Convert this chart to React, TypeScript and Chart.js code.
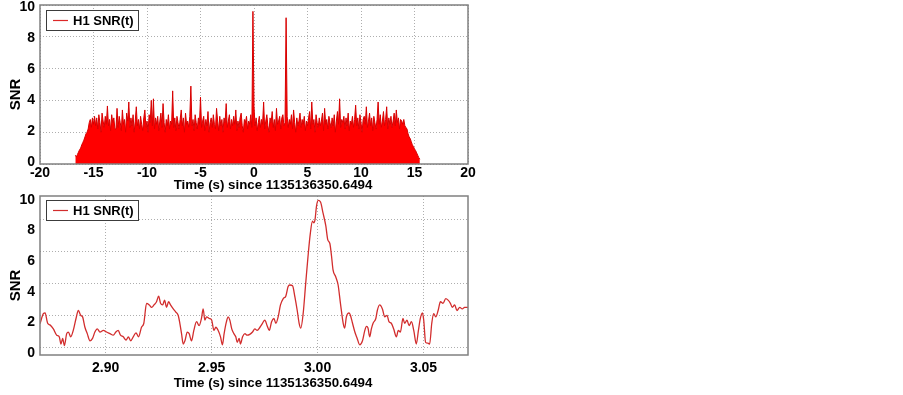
import React, { useEffect, useRef } from "react";
import { Chart, registerables } from "chart.js";

Chart.register(...registerables);

const FONT = "'Liberation Sans', Arial, Helvetica, sans-serif";

// ---------- data: full time series (top panel) ----------
const topStartTime = -16.7;
const topSampleStep = 0.1;
const topSNR = [
  0.55, 0.45, 0.6, 0.75, 0.9, 1.0, 1.2, 1.35, 1.5, 1.7,
  1.9, 2.0, 2.2, 2.6, 2.8, 2.3, 2.9, 2.5, 3.0, 2.4,
  2.9, 2.2, 3.1, 2.6, 2.0, 3.2, 2.7, 2.3, 3.0, 2.5,
  3.65, 2.4, 2.8, 2.1, 3.1, 2.6, 2.9, 2.2, 2.2, 3.5,
  2.3, 3.0, 2.6, 2.1, 3.4, 2.5, 2.8, 2.0, 3.2, 2.7,
  3.9, 2.3, 2.9, 2.4, 3.1, 2.0, 2.7, 3.6, 2.4, 2.8,
  2.2, 3.0, 2.5, 2.1, 2.9, 3.4, 2.3, 2.7, 2.0, 3.1,
  2.6, 4.0, 2.4, 4.1, 2.2, 2.9, 2.5, 3.0, 2.1, 2.7,
  3.2, 2.3, 3.8, 2.6, 2.0, 2.8, 2.4, 3.1, 2.2, 2.7,
  2.5, 4.6, 2.3, 2.9, 2.1, 3.0, 2.6, 2.2, 2.8, 3.4,
  2.4, 2.9, 2.0, 3.2, 2.5, 2.7, 2.3, 3.0, 4.9, 2.4,
  2.8, 2.1, 3.1, 2.6, 2.2, 2.9, 2.5, 4.2, 2.3, 2.7,
  3.0, 2.1, 2.8, 2.4, 3.3, 2.0, 2.6, 2.9, 2.3, 3.1,
  2.5, 2.2, 3.5, 2.7, 2.1, 3.0, 2.4, 2.8, 2.0, 2.9,
  2.6, 3.8, 2.3, 2.7, 3.1, 2.2, 2.8, 2.4, 3.0, 2.5,
  3.4, 2.1, 2.7, 2.3, 2.9, 3.2, 2.4, 2.0, 2.8, 2.6,
  3.0, 2.2, 2.7, 2.5, 3.1, 2.3, 9.6, 3.6, 2.4, 2.9,
  2.1, 2.6, 3.0, 2.3, 2.8, 2.5, 3.9, 2.2, 2.7, 3.1,
  2.4, 2.0, 2.9, 2.6, 3.3, 2.3, 2.8, 2.1, 3.5, 2.5,
  2.7, 3.0, 2.2, 2.9, 3.1, 2.4, 2.6, 9.2, 3.0, 2.3,
  2.8, 2.5, 3.1, 2.2, 3.4, 2.6, 2.0, 2.9, 2.4, 2.7,
  3.2, 2.3, 2.8, 2.5, 3.0, 2.1, 2.7, 2.4, 2.9, 3.3,
  2.2, 3.9, 2.5, 2.8, 2.0, 3.1, 2.6, 2.3, 2.9, 2.4,
  2.7, 3.2, 2.1, 3.5, 2.5, 2.8, 2.2, 3.0, 2.6, 2.3,
  2.9, 2.4, 3.1, 2.0, 2.7, 3.3, 2.5, 4.1, 2.3, 2.8,
  2.6, 3.0, 2.2, 2.9, 2.4, 3.2, 2.1, 2.7, 2.5, 3.0,
  2.3, 2.8, 3.7, 2.4, 2.9, 2.2, 3.1, 2.6, 2.0, 2.8,
  3.0, 2.5, 3.6, 2.3, 2.7, 3.2, 2.4, 2.9, 2.1, 3.0,
  2.6, 2.2, 2.8, 3.9, 2.5, 3.1, 2.3, 2.7, 3.3, 2.4,
  2.8, 3.6, 2.2, 2.9, 2.5, 3.0, 2.3, 2.7, 3.2, 2.4,
  3.4, 2.6, 2.9, 2.2, 2.8, 2.7, 2.5, 2.8, 2.4, 2.3,
  2.2, 1.9, 1.7, 1.6, 1.4, 1.2, 1.1, 0.95, 0.85, 0.7,
  0.55, 0.4, 0.3,
];
const topXTicks = [-20, -15, -10, -5, 0, 5, 10, 15, 20];
const topGridTicks = [0, 2, 4, 6, 8, 10];
const yTickValues = [0, 2, 4, 6, 8, 10];

// ---------- data: zoom around the peak (bottom panel) ----------
const zoomTimes = [
  2.8690, 2.8706, 2.8714, 2.8726, 2.8737, 2.8753, 2.8769, 2.8781, 2.8789, 2.8797,
  2.8805, 2.8816, 2.8824, 2.8835, 2.8847, 2.8860, 2.8871, 2.8882, 2.8891, 2.8902,
  2.8913, 2.8926, 2.8938, 2.8949, 2.8960, 2.8973, 2.8989, 2.9004, 2.9020, 2.9036,
  2.9048, 2.9059, 2.9070, 2.9083, 2.9096, 2.9107, 2.9118, 2.9130, 2.9143, 2.9155,
  2.9169, 2.9180, 2.9193, 2.9206, 2.9217, 2.9228, 2.9240, 2.9250, 2.9259, 2.9269,
  2.9278, 2.9287, 2.9297, 2.9306, 2.9319, 2.9331, 2.9342, 2.9350, 2.9358, 2.9366,
  2.9374, 2.9385, 2.9394, 2.9405, 2.9416, 2.9429, 2.9441, 2.9452, 2.9460, 2.9468,
  2.9476, 2.9489, 2.9500, 2.9511, 2.9520, 2.9531, 2.9542, 2.9551, 2.9559, 2.9570,
  2.9578, 2.9586, 2.9595, 2.9605, 2.9614, 2.9621, 2.9630, 2.9636, 2.9646, 2.9657,
  2.9668, 2.9680, 2.9693, 2.9704, 2.9715, 2.9728, 2.9740, 2.9751, 2.9762, 2.9772,
  2.9783, 2.9794, 2.9803, 2.9814, 2.9825, 2.9838, 2.9850, 2.9861, 2.9869, 2.9882,
  2.9893, 2.9904, 2.9913, 2.9921, 2.9932, 2.9944, 2.9955, 2.9966, 2.9976, 2.9982,
  2.9988, 2.9995, 3.0003, 3.0014, 3.0026, 3.0039, 3.0048, 3.0058, 3.0066, 3.0073,
  3.0086, 3.0097, 3.0108, 3.0121, 3.0128, 3.0136, 3.0149, 3.0155, 3.0165, 3.0176,
  3.0187, 3.0199, 3.0212, 3.0223, 3.0231, 3.0238, 3.0246, 3.0254, 3.0262, 3.0275,
  3.0282, 3.0293, 3.0306, 3.0317, 3.0328, 3.0337, 3.0348, 3.0359, 3.0372, 3.0381,
  3.0391, 3.0403, 3.0411, 3.0422, 3.0432, 3.0443, 3.0454, 3.0466, 3.0476, 3.0485,
  3.0495, 3.0501, 3.0510, 3.0521, 3.0529, 3.0539, 3.0548, 3.0558, 3.0569, 3.0580,
  3.0592, 3.0605, 3.0616, 3.0627, 3.0636, 3.0647, 3.0658, 3.0671, 3.0683, 3.0694,
  3.0710,
];
const zoomSNR = [
  1.47, 2.1, 2.15, 1.5, 1.4, 1.15, 0.75, 0.65, 0.2, 0.55,
  0.1, 0.85, 0.95, 0.65, 1.05, 1.8, 2.3, 2.0, 1.9, 1.25,
  0.85, 0.4, 0.55, 0.95, 1.15, 0.95, 1.05, 0.95, 0.85, 0.75,
  0.95, 1.05, 0.75, 0.65, 0.45, 0.65, 0.4, 0.65, 0.9, 0.65,
  1.25, 1.5, 2.75, 2.65, 2.5, 2.65, 2.85, 3.2, 2.75, 2.65,
  2.95, 2.5, 2.85, 2.65, 2.4, 2.2, 2.0, 1.5, 0.85, 0.2,
  0.4, 0.95, 0.85, 0.4, 1.05, 1.6, 1.35, 1.8, 2.4, 1.7,
  1.9, 1.8, 1.7, 1.05, 1.25, 1.05, 0.65, 0.15, 0.85, 1.6,
  1.9, 1.7, 1.15, 0.85, 0.65, 0.3, 0.55, 0.2, 0.65, 0.85,
  0.75, 0.8, 0.95, 1.15, 1.05, 1.25, 1.5, 1.7, 1.35, 1.05,
  1.6, 1.8, 1.5, 1.9, 2.65, 3.05, 3.2, 3.8, 3.9, 3.85,
  3.15, 2.3, 1.5, 1.2, 2.1, 4.0, 5.7, 7.15, 7.9, 7.8,
  8.0, 8.85, 9.2, 9.1, 8.4, 7.6, 6.75, 6.5, 5.7, 4.85,
  4.4, 3.9, 2.75, 1.5, 1.2, 1.9, 2.15, 2.0, 1.5, 0.95,
  0.55, 0.15, 0.4, 1.05, 1.3, 1.2, 0.65, 1.15, 1.5, 1.8,
  2.3, 2.65, 2.4, 1.9, 2.0, 1.6, 1.5, 1.15, 0.65, 1.05,
  0.95, 1.8, 1.5, 1.7, 1.35, 1.6, 1.05, 0.2, 1.05, 1.8,
  2.15, 1.7, 0.3, 0.25, 0.2, 1.5, 2.1, 1.9, 2.3, 2.85,
  2.75, 3.05, 2.95, 2.75, 2.5, 2.65, 2.3, 2.5, 2.4, 2.5,
  2.5,
];
const zoomXTicks = [2.9, 2.95, 3.0, 3.05];
const zoomXTickLabels = ["2.90", "2.95", "3.00", "3.05"];
const zoomGridTicks = [0, 2, 4, 6, 8];

const legendLabel = "H1 SNR(t)";
const xTitle = "Time (s) since 1135136350.6494";
const yTitle = "SNR";

const GRID_COLOR = "#aeaeae";
const TICK_FONT = { family: FONT, size: 14, weight: "bold" as const };

const decorPlugin = {
  id: "decor",
  afterDraw(chart: any, _args: any, opts: any) {
    const { ctx, chartArea: a } = chart;
    ctx.save();
    // frame
    ctx.strokeStyle = "#808080";
    ctx.lineWidth = 1.5;
    ctx.strokeRect(a.left, a.top, a.right - a.left, a.bottom - a.top);
    // legend box
    const lx = Math.round(a.left + 6);
    const ly = Math.round(a.top + opts.legendDy);
    const lw = 92;
    const lh = 20;
    ctx.fillStyle = "#ffffff";
    ctx.fillRect(lx, ly, lw, lh);
    ctx.strokeStyle = "#3c3c3c";
    ctx.lineWidth = 1;
    ctx.strokeRect(lx + 0.5, ly + 0.5, lw, lh);
    ctx.strokeStyle = opts.legendColor;
    ctx.lineWidth = 1.2;
    ctx.beginPath();
    ctx.moveTo(lx + 7, ly + lh / 2 + 0.5);
    ctx.lineTo(lx + 22, ly + lh / 2 + 0.5);
    ctx.stroke();
    ctx.fillStyle = "#000000";
    ctx.font = `bold 13px ${FONT}`;
    ctx.textAlign = "left";
    ctx.textBaseline = "middle";
    ctx.fillText(legendLabel, lx + 27, ly + lh / 2 + 1);
    // x axis title
    ctx.font = `bold 13.3px ${FONT}`;
    ctx.textAlign = "center";
    ctx.fillText(xTitle, (a.left + a.right) / 2 + 19, a.bottom + opts.xTitleDy);
    // y axis title
    ctx.translate(16, (a.top + a.bottom) / 2 + 10);
    ctx.rotate(-Math.PI / 2);
    ctx.font = `bold 15px ${FONT}`;
    ctx.fillText(yTitle, 0, 0);
    ctx.restore();
  },
};

function fixTicks(values: number[]) {
  return (scale: any) => {
    scale.ticks = values.map((v) => ({ value: v }));
  };
}

function gridAxis(min: number, max: number, ticks: number[]) {
  return {
    type: "linear" as const,
    position: "left" as const,
    min,
    max,
    afterBuildTicks: fixTicks(ticks),
    afterFit: (s: any) => {
      s.width = 0;
      s.paddingTop = 0;
      s.paddingBottom = 0;
    },
    grid: { color: GRID_COLOR, lineWidth: 1, drawTicks: false },
    border: { display: false, dash: [1, 2] },
    ticks: { display: false },
  };
}

function labelAxis(min: number, max: number) {
  return {
    type: "linear" as const,
    position: "left" as const,
    min,
    max,
    afterBuildTicks: fixTicks(yTickValues),
    afterFit: (s: any) => {
      s.width = 40;
      s.paddingTop = 0;
      s.paddingBottom = 0;
    },
    grid: { display: false, drawTicks: false },
    border: { display: false },
    ticks: {
      padding: 5,
      color: "#000",
      font: TICK_FONT,
      callback: (v: any) => String(v),
    },
  };
}

export default function App() {
  const topRef = useRef<HTMLCanvasElement | null>(null);
  const bottomRef = useRef<HTMLCanvasElement | null>(null);

  useEffect(() => {
    const topPoints = topSNR.map((v, i) => ({
      x: Math.round((topStartTime + i * topSampleStep) * 100) / 100,
      y: v,
    }));
    const zoomPoints = zoomTimes.map((t, i) => ({ x: t, y: zoomSNR[i] }));

    const topChart = new Chart(topRef.current as HTMLCanvasElement, {
      type: "line",
      data: {
        datasets: [
          {
            data: topPoints,
            borderColor: "rgb(215,0,0)",
            backgroundColor: "rgb(255,0,0)",
            fill: "origin",
            borderWidth: 1,
            pointRadius: 0,
            tension: 0,
            yAxisID: "y",
          },
        ],
      },
      options: {
        animation: false,
        responsive: false,
        events: [],
        layout: { padding: { left: 0, right: 12, top: 5, bottom: 0 } },
        plugins: {
          legend: { display: false },
          tooltip: { enabled: false },
          decor: { legendDy: 5, legendColor: "rgb(220,40,40)", xTitleDy: 21 },
        } as any,
        scales: {
          x: {
            type: "linear",
            min: -20,
            max: 20,
            afterBuildTicks: fixTicks(topXTicks),
            afterFit: (s: any) => {
              s.height = 31;
              s.paddingLeft = 0;
              s.paddingRight = 0;
            },
            grid: { color: GRID_COLOR, lineWidth: 1, drawTicks: false },
            border: { display: false, dash: [1, 2] },
            ticks: {
              padding: 1,
              color: "#000",
              font: TICK_FONT,
              maxRotation: 0,
              autoSkip: false,
              callback: (v: any) => String(v),
            },
          },
          y: gridAxis(0, 10, topGridTicks),
          yl: labelAxis(-0.096, 10.11),
        } as any,
      },
      plugins: [decorPlugin],
    });

    const bottomChart = new Chart(bottomRef.current as HTMLCanvasElement, {
      type: "line",
      data: {
        datasets: [
          {
            data: zoomPoints,
            borderColor: "rgb(210,45,45)",
            borderWidth: 1.3,
            pointRadius: 0,
            fill: false,
            cubicInterpolationMode: "monotone",
            yAxisID: "y",
          },
        ],
      },
      options: {
        animation: false,
        responsive: false,
        events: [],
        layout: { padding: { left: 0, right: 12, top: 6, bottom: 0 } },
        plugins: {
          legend: { display: false },
          tooltip: { enabled: false },
          decor: { legendDy: 4, legendColor: "rgb(210,45,45)", xTitleDy: 28.5 },
        } as any,
        scales: {
          x: {
            type: "linear",
            min: 2.869,
            max: 3.071,
            afterBuildTicks: fixTicks(zoomXTicks),
            afterFit: (s: any) => {
              s.height = 40;
              s.paddingLeft = 0;
              s.paddingRight = 0;
            },
            grid: { color: GRID_COLOR, lineWidth: 1, drawTicks: false },
            border: { display: false, dash: [1, 2] },
            ticks: {
              padding: 5,
              color: "#000",
              font: TICK_FONT,
              maxRotation: 0,
              autoSkip: false,
              callback: (_v: any, i: number) => zoomXTickLabels[i],
            },
          },
          y: gridAxis(-0.49, 9.48, zoomGridTicks),
          yl: labelAxis(-0.12, 10.26),
        } as any,
      },
      plugins: [decorPlugin],
    });

    return () => {
      topChart.destroy();
      bottomChart.destroy();
    };
  }, []);

  return (
    <div style={{ position: "absolute", left: 0, top: 0, width: 903, height: 395, background: "#fff" }}>
      <canvas
        ref={topRef}
        width={480}
        height={195}
        style={{ position: "absolute", left: 0, top: 0, width: 480, height: 195 }}
      />
      <canvas
        ref={bottomRef}
        width={480}
        height={205}
        style={{ position: "absolute", left: 0, top: 190, width: 480, height: 205 }}
      />
    </div>
  );
}
